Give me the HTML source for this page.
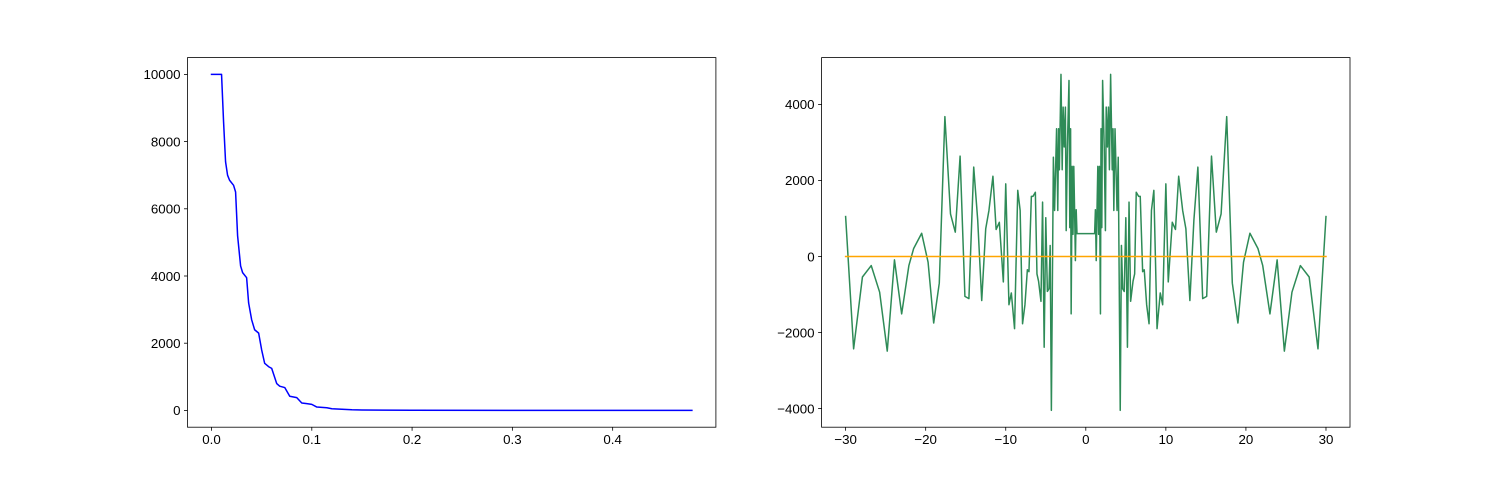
<!DOCTYPE html>
<html><head><meta charset="utf-8"><style>
html,body{margin:0;padding:0;background:#fff;}
svg{display:block;font-family:"Liberation Sans","DejaVu Sans",sans-serif;}
</style></head><body>
<svg id="fig" width="1500" height="480" viewBox="0 0 1500 480"></svg>
<script>
// Left chart data
const leftX = [0,0.010,0.012,0.014,0.016,0.018,0.022,0.024,0.026,0.029,0.031,0.035,0.037,0.040,0.043,0.047,0.050,0.053,0.057,0.060,0.065,0.068,0.073,0.078,0.085,0.090,0.095,0.100,0.105,0.110,0.115,0.120,0.130,0.140,0.150,0.200,0.479];
const leftY = [10000,10000,8600,7400,7000,6850,6700,6500,5200,4300,4100,3950,3200,2700,2400,2300,1800,1400,1300,1250,800,720,680,420,380,220,200,180,100,90,80,50,35,20,12,3,0];
const leftXTicks = [0,0.1,0.2,0.3,0.4];
const leftXTickLabels = ["0.0","0.1","0.2","0.3","0.4"];
const leftYTicks = [0,2000,4000,6000,8000,10000];
// Right chart data
const rightX = [-30,-29,-27.9,-26.8,-25.75,-24.8,-23.9,-23,-22.1,-21.5,-20.5,-19.7,-19,-18.3,-17.6,-16.9,-16.3,-15.7,-15.1,-14.6,-14,-13.5,-13,-12.5,-12.1,-11.6,-11.2,-10.8,-10.3,-10,-9.6,-9.3,-8.9,-8.5,-8.2,-7.9,-7.6,-7.3,-7.1,-6.8,-6.6,-6.3,-6.1,-5.9,-5.6,-5.4,-5.2,-5.0,-4.8,-4.6,-4.45,-4.3,-4.05,-3.9,-3.65,-3.5,-3.4,-3.3,-3.1,-2.95,-2.83,-2.7,-2.55,-2.45,-2.3,-2.1,-2.0,-1.9,-1.83,-1.7,-1.6,-1.5,-1.4,-1.3,-1.2,-1.1,
1.1,1.2,1.3,1.4,1.5,1.6,1.7,1.83,1.9,2.0,2.1,2.3,2.45,2.55,2.7,2.83,2.95,3.1,3.3,3.4,3.5,3.65,3.9,4.05,4.3,4.45,4.6,4.8,5.0,5.2,5.4,5.6,5.9,6.1,6.3,6.6,6.8,7.1,7.3,7.6,7.9,8.2,8.5,8.9,9.3,9.6,10,10.3,10.8,11.2,11.6,12.1,12.5,13,13.5,14,14.6,15.1,15.7,16.3,16.9,17.6,18.3,19,19.7,20.5,21.5,22.1,23,23.9,24.8,25.75,26.8,27.9,29,30];
const rightY = [1050,-2430,-540,-240,-940,-2490,-90,-1510,-240,210,610,-150,-1750,-700,3680,1120,640,2640,-1050,-1110,2350,950,-1160,730,1210,2110,710,900,-670,1910,-1270,-960,-1900,1740,1210,-1770,-1270,-350,-400,1580,1580,1690,-460,-650,-1180,1430,-2390,1020,-920,-850,290,-4050,2610,1210,3360,1210,3360,2280,4790,2280,3930,2880,3930,680,2880,4630,760,3360,-1510,2370,580,2370,1230,-110,1230,600,
600,1230,-110,1230,2370,580,2370,-1510,3360,760,4630,2880,680,3930,2880,3930,2280,4790,2280,3360,1210,3360,1210,2610,-4050,290,-850,-920,1020,-2390,1430,-1180,-650,-460,1690,1580,1580,-400,-350,-1270,-1770,1210,1740,-1900,-960,-1270,1910,-670,900,710,2110,1210,730,-1160,950,2350,-1110,-1050,2640,640,1120,3680,-700,-1750,-150,610,210,-240,-1510,-90,-2490,-940,-240,-540,-2430,1050];
const zeroX = [-30,30];
const zeroY = [0,0];
const rightXTicks = [-30,-20,-10,0,10,20,30];
const rightYTicks = [-4000,-2000,0,2000,4000];

const NS="http://www.w3.org/2000/svg";
const svg=document.getElementById('fig');
function el(tag,attrs,parent){const e=document.createElementNS(NS,tag);for(const k in attrs)e.setAttribute(k,attrs[k]);(parent||svg).appendChild(e);return e;}
function fmt(v){return v<0?"\u2212"+Math.abs(v):String(v);}

function makeAxes(name,L,T,W,H,xmin,xmax,ymin,ymax){
  const g=el('g',{});
  
  
  const sx=v=>L+(v-xmin)/(xmax-xmin)*W;
  const sy=v=>T+H-(v-ymin)/(ymax-ymin)*H;
  return {g,sx,sy,L,T,W,H};
}
function drawFrame(a){
  const r=el('rect',{x:a.L,y:a.T,width:a.W,height:a.H,fill:'none',stroke:'#000','stroke-width':0.8},a.g);
  
  
}
function xTicks(a,ticks,labels,axisName){
  const g=el('g',{},a.g);
  
  
  ticks.forEach((t,i)=>{
    const x=a.sx(t);
    el('line',{x1:x,x2:x,y1:a.T+a.H,y2:a.T+a.H+3.5,stroke:'#000','stroke-width':0.8},g);
    const tx=el('text',{x:x,y:a.T+a.H+17,'text-anchor':'middle','font-size':'13.3px',fill:'#000'},g);
    tx.textContent=labels?labels[i]:fmt(t);
    
    
  });
}
function yTicks(a,ticks,axisName){
  const g=el('g',{},a.g);
  
  
  ticks.forEach(t=>{
    const y=a.sy(t);
    el('line',{x1:a.L-3.5,x2:a.L,y1:y,y2:y,stroke:'#000','stroke-width':0.8},g);
    const tx=el('text',{x:a.L-7,y:y+4.8,'text-anchor':'end','font-size':'13.3px',fill:'#000'},g);
    tx.textContent=fmt(t);
    
    
  });
}
function line(a,xs,ys,color,name){
  const d=xs.map((x,i)=>(i?'L':'M')+a.sx(x).toFixed(2)+' '+a.sy(ys[i]).toFixed(2)).join(' ');
  const p=el('path',{d:d,fill:'none',stroke:color,'stroke-width':1.5,'stroke-linejoin':'round','stroke-linecap':'square'},a.g);
  
  
}

// Left axes
const lxr=leftX[leftX.length-1]-leftX[0], lyr=10000;
const A=makeAxes('left-chart',187.5,57.6,528.4,369.6,leftX[0]-0.05*lxr,leftX[leftX.length-1]+0.05*lxr,-0.05*lyr,10000+0.05*lyr);
line(A,leftX,leftY,'#0000ff','decay-curve');
drawFrame(A);
xTicks(A,leftXTicks,leftXTickLabels,'left-x-axis');
yTicks(A,leftYTicks,'left-y-axis');

// Right axes
const rymin=Math.min(...rightY), rymax=Math.max(...rightY), ryr=rymax-rymin;
const B=makeAxes('right-chart',821.6,57.6,528.4,369.6,-33,33,rymin-0.05*ryr,rymax+0.05*ryr);
line(B,rightX,rightY,'#2e8b57','oscillating-series');
line(B,zeroX,zeroY,'#ffa500','zero-line');
drawFrame(B);
xTicks(B,rightXTicks,null,'right-x-axis');
yTicks(B,rightYTicks,'right-y-axis');
</script>
</body></html>
